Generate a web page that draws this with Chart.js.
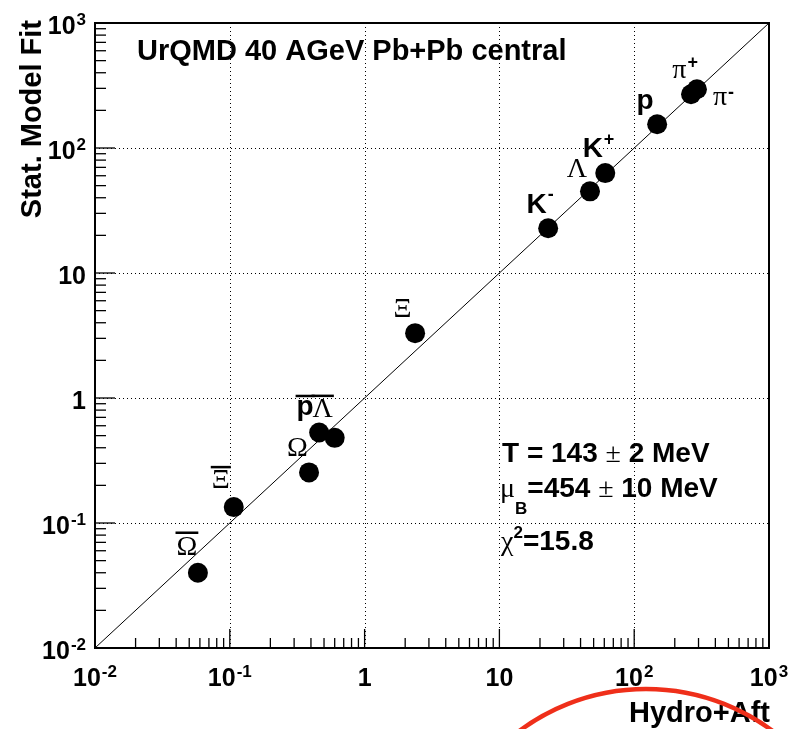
<!DOCTYPE html>
<html>
<head>
<meta charset="utf-8">
<script src="https://cdn.jsdelivr.net/npm/chart.js@4.4.0/dist/chart.umd.min.js"></script>
<style>
  body { margin: 0; background: #fff; }
  canvas { display: block; }
</style>
</head>
<body>
<canvas id="fitChart" width="801" height="729"></canvas>
<script>
// yields: hydro+afterburner (x) vs statistical model fit (y)
const particles = ['Ω̄', 'Ξ̄', 'Ω', 'p̄', 'Λ̄', 'Ξ', 'K-', 'Λ', 'K+', 'p', 'π-', 'π+'];
const hydroAft  = [0.058, 0.107, 0.387, 0.46, 0.60, 2.37, 23, 47, 61, 148, 264, 292];
const statModel = [0.040, 0.134, 0.254, 0.53, 0.48, 3.3, 22.8, 45, 63, 155, 269, 295];

const decades = [0.01, 0.1, 1, 10, 100, 1000];
const decadeLabels = [['10', '-2'], ['10', '-1'], ['1', ''], ['10', ''], ['10', '2'], ['10', '3']];
const diagonal = [0.01, 1000];

const titleText = 'UrQMD 40 AGeV Pb+Pb central';
const xTitle = 'Hydro+Aft';
const yTitle = 'Stat. Model Fit';

const SANS = '"Liberation Sans", Arial, sans-serif';
const SERIF = '"Liberation Serif", "Times New Roman", serif';

// glyph, superscript, font, overline, dx, dy, bar offset, sup offset
const labelLayout = [
  ['Ω', '',  'serif', true,  -11, -25, -15, 0],
  ['Ξ', '',  'serif', true,  -13, -26, -14, 0],
  ['Ω', '',  'serif', false, -11.5, -23.5, 0, 0],
  ['p', '',  'sans',  true,  -14, -25.5, -11, 0],
  ['Λ', '',  'serif', true,  -12, -28, -14, 0],
  ['Ξ', '',  'serif', false, -12.5, -24, 0, 0],
  ['K', '-', 'sans',  false, -11.5, -23, 0, -10],
  ['Λ', '',  'serif', false, -13, -22, 0, 0],
  ['K', '+', 'sans',  false, -12.5, -24, 0, -9],
  ['p', '',  'sans',  false, -12, -23, 0, 0],
  ['π', '-', 'serif', false, 29, 3.5, 0, -5],
  ['π', '+', 'serif', false, -17.5, -18.5, 0, -8]
];

function line(ctx, x1, y1, x2, y2) {
  ctx.beginPath();
  ctx.moveTo(x1, y1);
  ctx.lineTo(x2, y2);
  ctx.stroke();
}

// base + superscript, e.g. 10^-2
function drawPow(ctx, base, sup, x, y, align) {
  ctx.font = `bold 25px ${SANS}`;
  const wb = ctx.measureText(base).width;
  ctx.font = `bold 17px ${SANS}`;
  const ws = sup ? ctx.measureText(sup).width + 1 : 0;
  const total = wb + ws;
  let start = x - total / 2;
  if (align === 'right') start = x - total;
  ctx.textAlign = 'left';
  ctx.textBaseline = 'alphabetic';
  ctx.font = `bold 25px ${SANS}`;
  ctx.fillText(base, start, y);
  if (sup) {
    ctx.font = `bold 17px ${SANS}`;
    ctx.fillText(sup, start + wb + 1, y - 9);
  }
}

// text made of runs with different fonts
function drawRuns(ctx, runs, x, y) {
  ctx.textAlign = 'left';
  ctx.textBaseline = 'alphabetic';
  let cx = x;
  runs.forEach(([t, font, dy]) => {
    ctx.font = font;
    ctx.fillText(t, cx, y + (dy || 0));
    cx += ctx.measureText(t).width;
  });
}

function tickValues() {
  const v = [];
  for (let e = -2; e < 3; e++) {
    for (let m = 1; m < 10; m++) v.push(m * Math.pow(10, e));
  }
  v.push(1000);
  return v;
}

const rootFrame = {
  id: 'rootFrame',
  beforeDatasetsDraw(chart) {
    const { ctx, chartArea: a, scales: { x, y } } = chart;
    ctx.save();
    ctx.strokeStyle = '#000';
    ctx.lineWidth = 1;
    ctx.setLineDash([1, 3]);
    decades.slice(1, -1).forEach(v => {
      const px = Math.round(x.getPixelForValue(v)) + 0.5;
      line(ctx, px, a.top, px, a.bottom);
      const py = Math.round(y.getPixelForValue(v)) + 0.5;
      line(ctx, a.left, py, a.right, py);
    });
    ctx.restore();
  },
  afterDraw(chart) {
    const { ctx, chartArea: a, scales: { x, y } } = chart;
    ctx.save();
    ctx.fillStyle = '#000';
    ctx.strokeStyle = '#000';

    // ticks inside the frame
    ctx.lineWidth = 1.3;
    tickValues().forEach(v => {
      const major = decades.some(d => Math.abs(Math.log10(d) - Math.log10(v)) < 1e-6);
      const px = x.getPixelForValue(v);
      line(ctx, px, a.bottom, px, a.bottom - (major ? 19 : 10));
      const py = y.getPixelForValue(v);
      line(ctx, a.left, py, a.left + (major ? 20 : 11), py);
    });

    // frame
    ctx.lineWidth = 2;
    ctx.strokeRect(a.left, a.top, a.right - a.left, a.bottom - a.top);

    // tick labels
    decades.forEach((v, i) => {
      const [b, s] = decadeLabels[i];
      drawPow(ctx, b, s, x.getPixelForValue(v), a.bottom + 38, 'center');
      drawPow(ctx, b, s, 86, y.getPixelForValue(v) + 11, 'right');
    });

    // particle labels
    labelLayout.forEach(([glyph, sup, kind, bar, dx, dy, barDy, supDy], i) => {
      const cx = x.getPixelForValue(hydroAft[i]) + dx;
      const cy = y.getPixelForValue(statModel[i]) + dy;
      ctx.save();
      ctx.translate(cx, cy);
      ctx.font = kind === 'serif' ? `28px ${SERIF}` : `bold 28px ${SANS}`;
      ctx.textAlign = 'center';
      ctx.textBaseline = 'middle';
      ctx.fillText(glyph, 0, 0);
      const w = ctx.measureText(glyph).width;
      if (bar) {
        ctx.lineWidth = 2.5;
        line(ctx, -w / 2 - 1, barDy, w / 2 + 1, barDy);
      }
      if (sup) {
        ctx.font = `bold 18px ${SANS}`;
        ctx.textAlign = 'left';
        ctx.fillText(sup, w / 2 + 1, supDy);
      }
      ctx.restore();
    });

    // titles
    ctx.textBaseline = 'alphabetic';
    ctx.font = `bold 29px ${SANS}`;
    ctx.textAlign = 'left';
    ctx.fillText(titleText, 137, 60);
    ctx.textAlign = 'right';
    ctx.fillText(xTitle, 770, 722);
    ctx.save();
    ctx.translate(41, 20);
    ctx.rotate(-Math.PI / 2);
    ctx.textAlign = 'right';
    ctx.fillText(yTitle, 0, 0);
    ctx.restore();

    // fit results
    const B = `bold 28px ${SANS}`, G = `28px ${SERIF}`, S = `bold 17px ${SANS}`;
    drawRuns(ctx, [['T = 143 ', B], ['±', G], [' 2 MeV', B]], 502, 462);
    drawRuns(ctx, [['μ', G], ['B', S, 17], ['=454 ', B], ['±', G], [' 10 MeV', B]], 500, 497);
    drawRuns(ctx, [['χ', G], ['2', S, -12], ['=15.8', B]], 501, 550);

    // red annotation arc
    ctx.strokeStyle = '#ef2f1a';
    ctx.lineWidth = 4.5;
    ctx.beginPath();
    ctx.arc(646, 901, 212, Math.PI, 2 * Math.PI);
    ctx.stroke();
    ctx.restore();
  }
};

const ctx = document.getElementById('fitChart').getContext('2d');
new Chart(ctx, {
  type: 'scatter',
  data: {
    datasets: [
      {
        label: 'yields',
        data: hydroAft.map((v, i) => ({ x: v, y: statModel[i] })),
        pointRadius: 10,
        pointBackgroundColor: '#000',
        pointBorderWidth: 0
      },
      {
        label: 'y = x',
        data: diagonal.map(v => ({ x: v, y: v })),
        showLine: true,
        borderColor: '#000',
        borderWidth: 1,
        pointRadius: 0
      }
    ]
  },
  options: {
    responsive: false,
    animation: false,
    layout: { padding: { left: 95, top: 23, right: 32, bottom: 81 } },
    plugins: { legend: { display: false }, tooltip: { enabled: false } },
    scales: {
      x: { type: 'logarithmic', min: 0.01, max: 1000, display: false },
      y: { type: 'logarithmic', min: 0.01, max: 1000, display: false }
    }
  },
  plugins: [rootFrame]
});
</script>
</body>
</html>
